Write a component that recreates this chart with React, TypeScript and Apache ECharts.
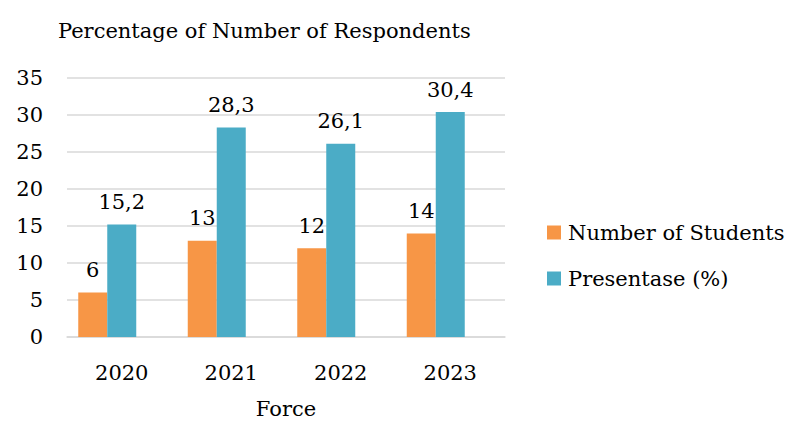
import React, { useEffect, useRef } from "react";
import * as echarts from "echarts";

const categories = ["2020", "2021", "2022", "2023"];
const students = [6, 13, 12, 14];
const percentage = [15.2, 28.3, 26.1, 30.4];
const seriesNames = ["Number of Students", "Presentase (%)"];
const titleText = "Percentage of Number of Respondents";
const axisName = "Force";

const FONT = "DejaVu Serif";
const FS = 21;

export default function App() {
  const ref = useRef<HTMLDivElement>(null);
  useEffect(() => {
    if (!ref.current) return;
    const chart = echarts.init(ref.current, undefined, { renderer: "svg" });
    const label = {
      show: true,
      position: "top" as const,
      distance: 12,
      color: "#000",
      fontFamily: FONT,
      fontSize: FS,
      formatter: (p: any) => String(p.value).replace(".", ","),
    };
    chart.setOption({
      animation: false,
      title: {
        text: titleText,
        left: 53,
        top: 15,
        textStyle: { fontFamily: FONT, fontSize: 21, fontWeight: "normal", color: "#000" },
      },
      legend: {
        orient: "vertical",
        left: 542,
        top: 217,
        itemWidth: 14,
        itemHeight: 14,
        itemGap: 25,
        icon: "rect",
        data: seriesNames,
        textStyle: { fontFamily: FONT, fontSize: FS, color: "#000", padding: [0, 0, 0, 2] },
      },
      grid: { left: 67, right: 290, top: 78, bottom: 84, outerBoundsMode: "none" },
      xAxis: {
        type: "category",
        data: categories,
        name: axisName,
        nameLocation: "middle",
        nameGap: 61,
        nameTextStyle: { fontFamily: FONT, fontSize: FS, color: "#000" },
        axisLine: { show: true, lineStyle: { color: "#D9D9D9", width: 1.5 } },
        axisTick: { show: false },
        axisLabel: { fontFamily: FONT, fontSize: FS, color: "#000", margin: 25 },
      },
      yAxis: {
        type: "value",
        min: 0,
        max: 35,
        interval: 5,
        axisLine: { show: false },
        axisTick: { show: false },
        axisLabel: { fontFamily: FONT, fontSize: FS, color: "#000", margin: 24 },
        splitLine: { lineStyle: { color: "#D9D9D9", width: 1.5 } },
      },
      series: [
        {
          name: seriesNames[0],
          type: "bar",
          data: students,
          barWidth: 29,
          barGap: "0%",
          itemStyle: { color: "#F79646" },
          label,
        },
        {
          name: seriesNames[1],
          type: "bar",
          data: percentage,
          barWidth: 29,
          barGap: "0%",
          itemStyle: { color: "#4BACC6" },
          label,
        },
        {
          name: "",
          type: "bar",
          data: [],
          barWidth: 29,
          barGap: "0%",
        },
      ],
    });
    return () => chart.dispose();
  }, []);
  return <div ref={ref} style={{ width: 795, height: 421, position: "absolute", left: 0, top: 0 }} />;
}
